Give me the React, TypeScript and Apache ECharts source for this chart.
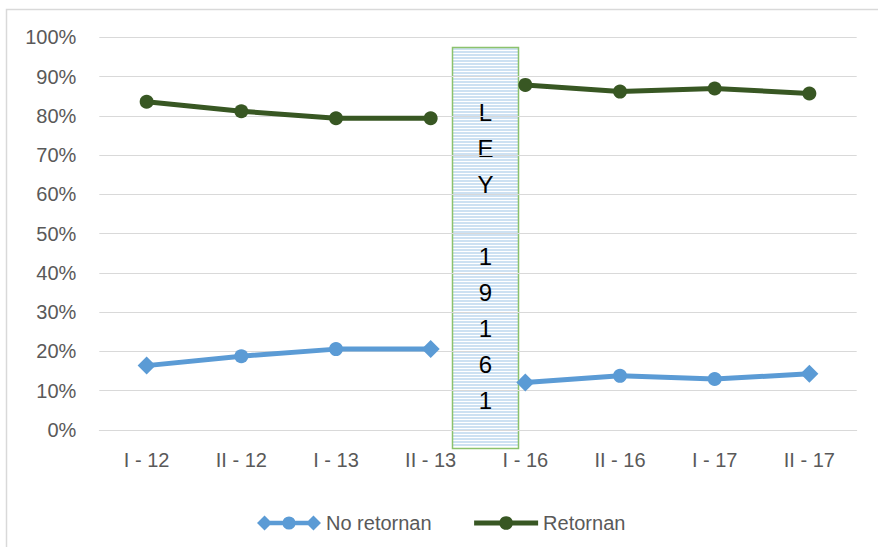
import React, { useEffect, useRef } from "react";
import * as echarts from "echarts";

// Semesters on the x axis
const categories = ["I - 12", "II - 12", "I - 13", "II - 13", "I - 16", "II - 16", "I - 17", "II - 17"];
// Share of people who do not return / who return, in percent
const noRetornan = [16.4, 18.8, 20.6, 20.6, 12.1, 13.8, 13.0, 14.3];
const retornan = [83.6, 81.2, 79.4, 79.4, 87.9, 86.2, 87.0, 85.7];
// Marker shape of each "No retornan" point
const noRetornanSymbols = ["diamond", "circle", "circle", "diamond", "diamond", "circle", "circle", "diamond"];
// The law's label, one character per row
const lawLabel = ["L", "E", "Y", "", "1", "9", "1", "6", "1"];
// Index of the last semester before the law; the lines break after it
const lastBeforeLaw = 3;

const BLUE = "#5B9BD5";
const GREEN = "#385723";
const GRID = "#D9D9D9";
const LABEL = "#595959";
const FONT = '"Liberation Sans", Arial, sans-serif';

// Legend key for "No retornan": diamond, circle and diamond on a thick line
const NO_RETORNAN_ICON =
  "path://M0 8L8 0L16 8L8 16Z" +
  "M8 5.5L60 5.5L60 10.5L8 10.5Z" +
  "M27 8A7 7 0 1 1 41 8A7 7 0 1 1 27 8Z" +
  "M52 8L60 0L68 8L60 16Z";

function segment(values: number[], from: number, to: number, symbols?: string[]) {
  return values.map((v, i) => {
    if (i < from || i > to) return null;
    if (!symbols) return v;
    return { value: v, symbol: symbols[i], symbolSize: symbols[i] === "diamond" ? 18 : 14 };
  });
}

function lawBox() {
  const x0 = 452.5;
  const y0 = 47.5;
  const w = 66;
  const h = 401;
  const stripes: any[] = [];
  for (let y = y0 + 1.5; y < y0 + h - 0.5; y += 3) {
    stripes.push({
      type: "line",
      shape: { x1: x0 + 0.5, y1: y, x2: x0 + w - 0.5, y2: y },
      style: { stroke: "#BDD7EE", lineWidth: 1.5 },
      silent: true,
    });
  }
  return {
    type: "group",
    z: 100,
    children: [
      { type: "rect", shape: { x: x0, y: y0, width: w, height: h }, style: { fill: "#FFFFFF", stroke: "none" } },
      ...stripes,
      {
        type: "rect",
        shape: { x: x0, y: y0, width: w, height: h },
        style: { fill: "none", stroke: "#8CC26C", lineWidth: 1.5 },
      },
      {
        type: "text",
        style: {
          text: lawLabel.join("\n"),
          x: x0 + w / 2,
          y: 94.5,
          align: "center",
          verticalAlign: "top",
          font: `24px ${FONT}`,
          lineHeight: 36,
          fill: "#000000",
        },
      },
    ],
  };
}

export default function App() {
  const ref = useRef<HTMLDivElement>(null);

  useEffect(() => {
    if (!ref.current) return;
    const chart = echarts.init(ref.current, undefined, { renderer: "svg" });
    const last = categories.length - 1;
    const lineBase = { type: "line", z: 3, showSymbol: true, connectNulls: false };
    chart.setOption({
      animation: false,
      backgroundColor: "#FFFFFF",
      textStyle: { fontFamily: FONT },
      grid: { left: 99.3, right: 21.3, top: 37.4, bottom: 117, containLabel: false },
      legend: {
        data: [{ name: "No retornan", icon: NO_RETORNAN_ICON }, { name: "Retornan" }],
        left: 252,
        top: 508,
        itemWidth: 64,
        itemHeight: 17,
        itemGap: 40,
        lineStyle: { width: 5 },
        textStyle: { color: LABEL, fontSize: 20, fontFamily: FONT },
      },
      xAxis: {
        type: "category",
        data: categories,
        boundaryGap: true,
        axisTick: { show: false },
        axisLine: { lineStyle: { color: GRID, width: 1 } },
        axisLabel: { color: LABEL, fontSize: 20, margin: 20, fontFamily: FONT },
      },
      yAxis: {
        type: "value",
        min: 0,
        max: 100,
        interval: 10,
        axisLine: { show: false },
        axisTick: { show: false },
        splitLine: { lineStyle: { color: GRID, width: 1 } },
        axisLabel: { formatter: "{value}%", color: LABEL, fontSize: 20, margin: 23, fontFamily: FONT },
      },
      series: [
        {
          ...lineBase,
          name: "No retornan",
          data: segment(noRetornan, 0, lastBeforeLaw, noRetornanSymbols),
          symbol: "diamond",
          symbolSize: 18,
          itemStyle: { color: BLUE },
          lineStyle: { color: BLUE, width: 5 },
        },
        {
          ...lineBase,
          name: "No retornan",
          data: segment(noRetornan, lastBeforeLaw + 1, last, noRetornanSymbols),
          symbol: "diamond",
          symbolSize: 18,
          itemStyle: { color: BLUE },
          lineStyle: { color: BLUE, width: 5 },
        },
        {
          ...lineBase,
          name: "Retornan",
          data: segment(retornan, 0, lastBeforeLaw),
          symbol: "circle",
          symbolSize: 14,
          itemStyle: { color: GREEN },
          lineStyle: { color: GREEN, width: 5 },
        },
        {
          ...lineBase,
          name: "Retornan",
          data: segment(retornan, lastBeforeLaw + 1, last),
          symbol: "circle",
          symbolSize: 14,
          itemStyle: { color: GREEN },
          lineStyle: { color: GREEN, width: 5 },
        },
      ],
      graphic: [
        {
          type: "rect",
          z: 0,
          silent: true,
          shape: { x: 6.5, y: 9.5, width: 1000, height: 1000 },
          style: { fill: "none", stroke: GRID, lineWidth: 1.5 },
        },
        lawBox(),
      ],
    });
    return () => chart.dispose();
  }, []);

  return (
    <div
      ref={ref}
      style={{ position: "fixed", left: 0, top: 0, width: 878, height: 547, background: "#FFFFFF" }}
    />
  );
}
